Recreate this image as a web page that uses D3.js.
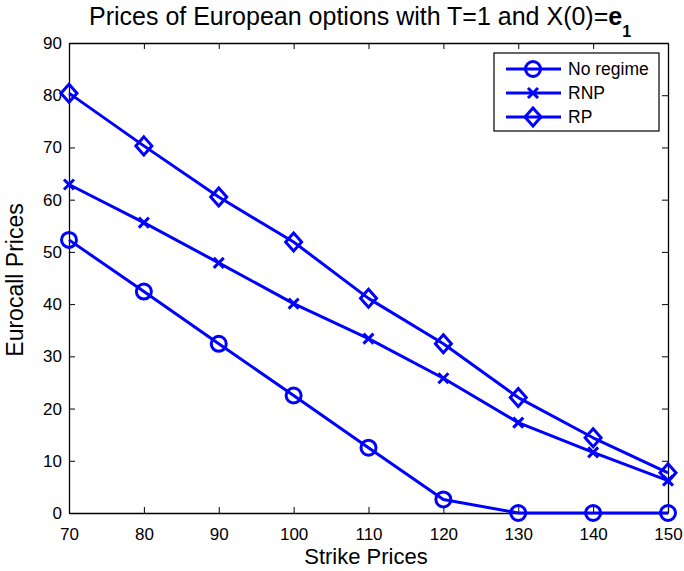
<!DOCTYPE html>
<html>
<head>
<meta charset="utf-8">
<script src="https://cdn.jsdelivr.net/npm/d3@7"></script>
<style>
  body { margin: 0; background: #fff; }
  svg { display: block; font-family: "Liberation Sans", Arial, sans-serif; }
</style>
</head>
<body>
<svg id="chart" width="684" height="571"></svg>
<script>
// Strike prices on the x axis
const strikes = [70, 80, 90, 100, 110, 120, 130, 140, 150];
// Eurocall prices per model
const noRegime = [52.3, 42.4, 32.4, 22.5, 12.5, 2.6, 0, 0, 0];
const rnp = [62.9, 55.6, 47.9, 40.1, 33.4, 25.8, 17.3, 11.6, 6.2];
const rp = [80.4, 70.3, 60.5, 51.9, 41.1, 32.4, 22.1, 14.4, 7.7];
const seriesNames = ["No regime", "RNP", "RP"];
const markerKinds = ["circle", "cross", "diamond"];
const xTicks = [70, 80, 90, 100, 110, 120, 130, 140, 150];
const yTicks = [0, 10, 20, 30, 40, 50, 60, 70, 80, 90];

const svg = d3.select("#chart");
const plotLeft = 69, plotRight = 668, plotTop = 43, plotBottom = 513;
const blue = "#0000ff";

const x = d3.scaleLinear().domain([70, 150]).range([plotLeft, plotRight]);
const y = d3.scaleLinear().domain([0, 90]).range([plotBottom, plotTop]);

// axes with inward ticks on all four sides
const tickLen = 6;
const axB = svg.append("g").attr("transform", `translate(0,${plotBottom})`)
  .call(d3.axisBottom(x).tickValues(xTicks).tickSizeInner(-tickLen).tickSizeOuter(0).tickPadding(15));
const axT = svg.append("g").attr("transform", `translate(0,${plotTop})`)
  .call(d3.axisTop(x).tickValues(xTicks).tickSizeInner(-tickLen).tickSizeOuter(0).tickFormat(""));
const axL = svg.append("g").attr("transform", `translate(${plotLeft},0)`)
  .call(d3.axisLeft(y).tickValues(yTicks).tickSizeInner(-tickLen).tickSizeOuter(0).tickPadding(7));
const axR = svg.append("g").attr("transform", `translate(${plotRight},0)`)
  .call(d3.axisRight(y).tickValues(yTicks).tickSizeInner(-tickLen).tickSizeOuter(0).tickFormat(""));
[axB, axT, axL, axR].forEach(a => {
  a.selectAll(".domain").attr("stroke", "#000").attr("stroke-width", 1.3);
  a.selectAll(".tick line").attr("stroke", "#000").attr("stroke-width", 1);
  a.selectAll(".tick text").attr("fill", "#000").attr("font-size", 17)
    .attr("font-family", "Liberation Sans, Arial, sans-serif");
});

// marker drawing
function drawMarker(g, kind, cx, cy) {
  if (kind === "circle") {
    g.append("circle").attr("cx", cx).attr("cy", cy).attr("r", 7.5)
      .attr("fill", "none").attr("stroke", blue).attr("stroke-width", 3);
  } else if (kind === "cross") {
    const s = 5;
    g.append("path")
      .attr("d", `M${cx - s},${cy - s}L${cx + s},${cy + s}M${cx - s},${cy + s}L${cx + s},${cy - s}`)
      .attr("stroke", blue).attr("stroke-width", 3).attr("fill", "none");
  } else {
    const w = 8, h = 9;
    g.append("path")
      .attr("d", `M${cx},${cy - h}L${cx + w},${cy}L${cx},${cy + h}L${cx - w},${cy}Z`)
      .attr("stroke", blue).attr("stroke-width", 3).attr("fill", "none");
  }
}

const allSeries = [noRegime, rnp, rp];
const line = d3.line().x((d, i) => x(strikes[i])).y(d => y(d));
const plot = svg.append("g");
allSeries.forEach((vals, si) => {
  plot.append("path").datum(vals).attr("d", line)
    .attr("fill", "none").attr("stroke", blue).attr("stroke-width", 3)
    .attr("stroke-linejoin", "round");
  const mg = plot.append("g");
  vals.forEach((v, i) => drawMarker(mg, markerKinds[si], x(strikes[i]), y(v)));
});

// legend
const lg = svg.append("g");
lg.append("rect").attr("x", 494).attr("y", 53).attr("width", 165).attr("height", 78)
  .attr("fill", "#fff").attr("stroke", "#000").attr("stroke-width", 1.2);
seriesNames.forEach((name, i) => {
  const ly = 69 + i * 24;
  lg.append("line").attr("x1", 506).attr("x2", 561).attr("y1", ly).attr("y2", ly)
    .attr("stroke", blue).attr("stroke-width", 3);
  drawMarker(lg, markerKinds[i], 533, ly);
  lg.append("text").attr("x", 568).attr("y", ly).attr("dy", "0.36em")
    .attr("font-size", 17.5).text(name);
});

// title
const title = svg.append("text").attr("x", 89).attr("y", 25)
  .attr("text-anchor", "start").attr("font-size", 25);
title.append("tspan").text("Prices of European options with T=1 and X(0)=");
title.append("tspan").attr("font-weight", "bold").text("e");
title.append("tspan").attr("font-weight", "bold").attr("font-size", 16).attr("dy", 12).text("1");

// axis labels
svg.append("text").attr("x", 366).attr("y", 564)
  .attr("text-anchor", "middle").attr("font-size", 22).text("Strike Prices");
svg.append("text").attr("transform", `translate(23,280) rotate(-90)`)
  .attr("text-anchor", "middle").attr("font-size", 23).text("Eurocall Prices");
</script>
</body>
</html>
